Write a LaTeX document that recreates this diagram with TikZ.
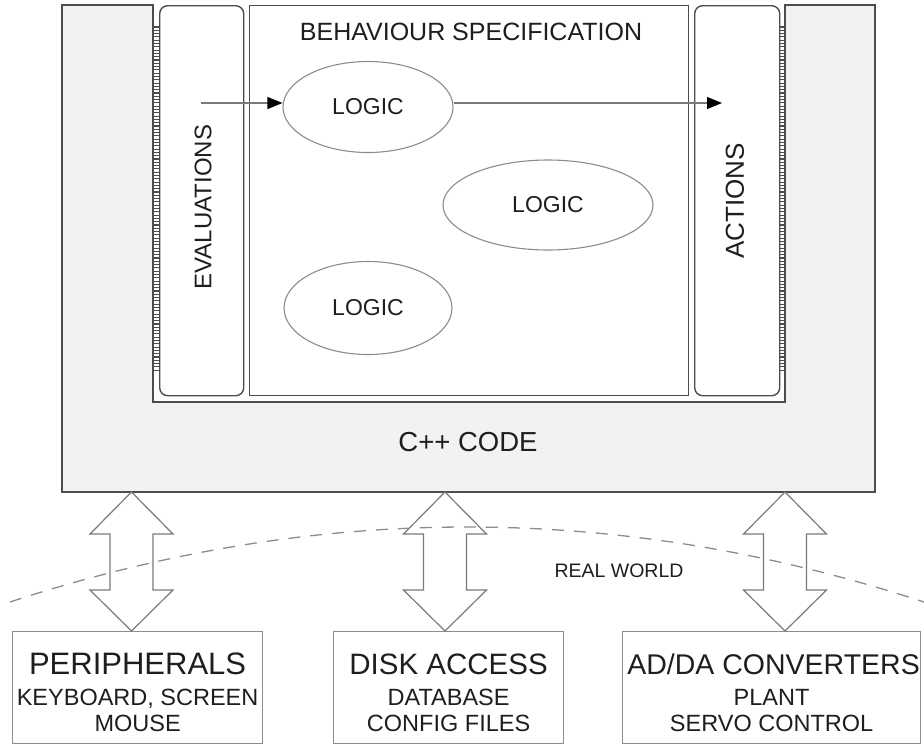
\documentclass[tikz,border=0pt]{standalone}
\usepackage{fontspec}
\setmainfont{Liberation Sans}
\usetikzlibrary{calc,arrows.meta,shapes.geometric}
\definecolor{boxfill}{HTML}{F2F2F2}
\definecolor{edgec}{HTML}{4D4D4D}
\definecolor{softc}{HTML}{8C8C8C}
\definecolor{arrc}{HTML}{7A7A7A}
\definecolor{txtc}{HTML}{1E1E1E}
\newcommand\dblarr[2]{%
  \draw[dblarrow] (#1) -- ($(#1)+(41.5,42)$) -- ($(#1)+(21.5,42)$) -- ($(#2)+(21.5,-41)$)
    -- ($(#2)+(41.5,-41)$) -- (#2) -- ($(#2)+(-41.5,-41)$) -- ($(#2)+(-21.5,-41)$)
    -- ($(#1)+(-21.5,42)$) -- ($(#1)+(-41.5,42)$) -- cycle;}
\begin{document}
\begin{tikzpicture}[x=1pt,y=-1pt,
  frame/.style={draw=edgec,line width=1.6pt},
  panel/.style={draw=edgec,line width=1.4pt,fill=white,inner sep=0pt},
  logicnode/.style={ellipse,draw=softc,line width=1.1pt,inner sep=0pt,text=txtc,font=\fontsize{23}{27}\selectfont},
  flow/.style={draw=arrc,line width=1.1pt,-{Triangle[color=black,length=15pt,width=12pt]}},
  extbox/.style={draw=softc,line width=1.2pt,inner sep=0pt,minimum height=112pt},
  bigtxt/.style={anchor=base,text=txtc,font=\fontsize{29.5}{33}\selectfont},
  smalltxt/.style={anchor=base,text=txtc,font=\fontsize{23.5}{27}\selectfont},
  dblarrow/.style={draw=arrc,line width=1.2pt,line join=miter},
  worldline/.style={draw=softc,line width=1.3pt,dash pattern=on 12pt off 10pt},
  rung/.style={draw=edgec,line width=1.1pt}
]
\useasboundingbox (0,0) rectangle (924,745);

% C++ code frame with white U-shaped recess
\fill[boxfill] (62,5) rectangle (875,492);
\fill[white] (153,5) rectangle (785,402);
\draw[frame] (153,5) -- (62,5) -- (62,492) -- (875,492) -- (875,5) -- (785,5)
  -- (785,402) -- (153,402) -- cycle;
\coordinate (code) at (468.5,492);
\node[text=txtc,font=\fontsize{27.5}{31}\selectfont] (codelbl) at (468,442) {C++ CODE};

% ladders
\foreach \yy in {27,30.3,...,372} {
  \draw[rung] (153,\yy) -- (159,\yy);
  \draw[rung] (779,\yy) -- (785,\yy);
}

% panels
\node[panel,rounded corners=8pt,minimum width=84pt,minimum height=390pt,anchor=north west] (eval) at (159,5) {};
\node[panel,minimum width=439pt,minimum height=390pt,anchor=north west] (beh) at (249,5) {};
\node[panel,rounded corners=8pt,minimum width=85pt,minimum height=390pt,anchor=north west] (act) at (694,5) {};

\node[rotate=90,text=txtc,font=\fontsize{24}{28}\selectfont] (evallbl) at (203,207) {EVALUATIONS};
\node[rotate=90,text=txtc,font=\fontsize{26}{30}\selectfont] (actlbl) at (735,201) {ACTIONS};
\node[text=txtc,font=\fontsize{25}{29}\selectfont] (behlbl) at (471,32) {BEHAVIOUR SPECIFICATION};

% logic ellipses
\node[logicnode,minimum width=170pt,minimum height=91pt] (l1) at (368,107) {LOGIC};
\node[logicnode,minimum width=210pt,minimum height=90pt] (l2) at (548,205) {LOGIC};
\node[logicnode,minimum width=168pt,minimum height=93pt] (l3) at (368,308) {LOGIC};

\coordinate (es) at (201,103);
\coordinate (ae) at (722,103);
\draw[flow] (es) -- (es -| l1.west);
\draw[flow] (es -| l1.east) -- (ae);

% external boxes
\node[extbox,minimum width=250pt,anchor=north west] (per) at (12,631) {};
\node[extbox,minimum width=230pt,anchor=north west] (disk) at (333,631) {};
\node[extbox,minimum width=298pt,anchor=north west] (adda) at (622,631) {};

\node[bigtxt,font=\fontsize{31}{35}\selectfont] (perA) at ($(per.north)+(0,43)$) {PERIPHERALS};
\node[smalltxt] (perB) at ($(per.north)+(0,74.5)$) {KEYBOARD, SCREEN};
\node[smalltxt] (perC) at ($(per.north)+(0,100.5)$) {MOUSE};
\node[bigtxt] (diskA) at ($(disk.north)+(0,43)$) {DISK ACCESS};
\node[smalltxt] (diskB) at ($(disk.north)+(0,74.5)$) {DATABASE};
\node[smalltxt] (diskC) at ($(disk.north)+(0,100.5)$) {CONFIG FILES};
\node[bigtxt,font=\fontsize{28.5}{33}\selectfont] (addaA) at ($(adda.north)+(2,43)$) {AD/DA CONVERTERS};
\node[smalltxt] (addaB) at ($(adda.north)+(0,74.5)$) {PLANT};
\node[smalltxt] (addaC) at ($(adda.north)+(0,100.5)$) {SERVO CONTROL};

% double arrows
\coordinate (t1) at (131.5,492); \coordinate (b1) at (131.5,631);
\coordinate (t2) at (445,492);   \coordinate (b2) at (445,631);
\coordinate (t3) at (785,492);   \coordinate (b3) at (785,631);
\dblarr{t1}{b1}
\dblarr{t2}{b2}
\dblarr{t3}{b3}

% real world boundary
\coordinate (wl) at (10,602);
\coordinate (wr) at (924,602);
\draw[worldline] (wl) .. controls (314.7,502) and (619.3,502) .. (wr);
\node[text=txtc,font=\fontsize{19.5}{23}\selectfont] (rw) at (619,571) {REAL WORLD};
\end{tikzpicture}
\end{document}
